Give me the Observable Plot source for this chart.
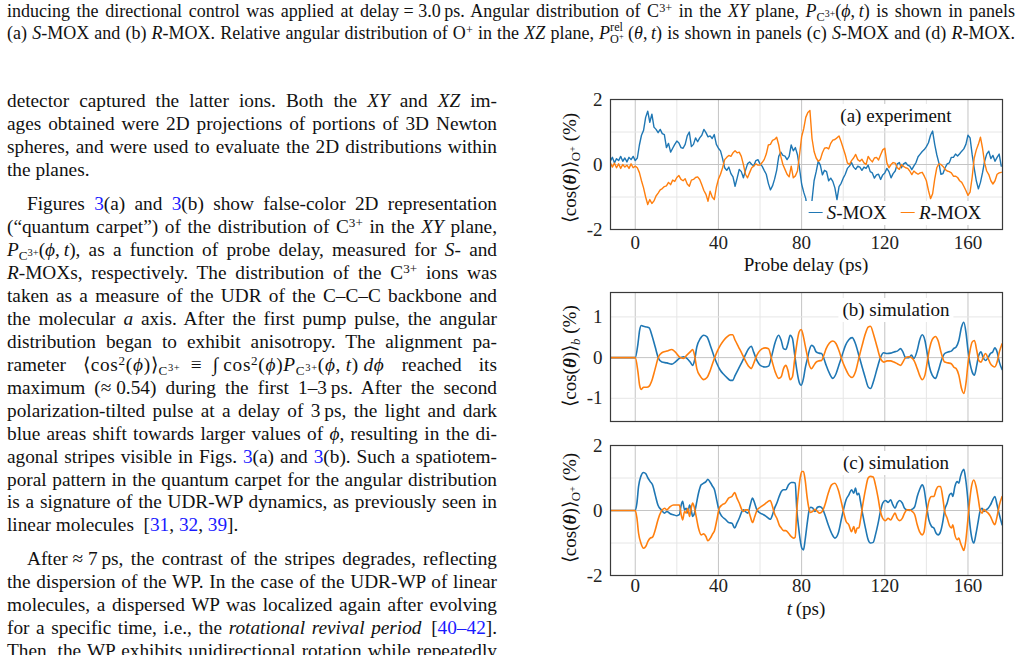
<!DOCTYPE html>
<html><head><meta charset="utf-8">
<script src="https://cdn.jsdelivr.net/npm/d3@7"></script>
<script src="https://cdn.jsdelivr.net/npm/@observablehq/plot@0.6"></script>
<style>
html,body{margin:0;padding:0;background:#fff;}
#page{position:relative;width:1029px;height:655px;overflow:hidden;font-family:"Liberation Serif","Times New Roman",serif;color:#111;}
.ln{position:absolute;white-space:nowrap;line-height:23px;}
.body{font-size:19.3px;}
.cap{font-size:18px;}
.blue{color:#1a1aff;}
.m{letter-spacing:0.7px;}
sup,sub{font-size:68%;line-height:0;}
sup{vertical-align:0.45em;}
sub{vertical-align:-0.3em;}
sub sup{vertical-align:0.4em;font-size:80%;}
.ss{display:inline-block;position:relative;width:1.0em;height:1em;}
.ss .a{position:absolute;left:0;top:-0.45em;font-size:68%;}
.ss .b{position:absolute;left:0;top:0.55em;font-size:68%;}
.abs{position:absolute;white-space:nowrap;}
.chart{position:absolute;}
.lab{font-size:19px;background:#fff;padding:1px 4px;transform:translate(-50%,-50%);line-height:22px;}
.ylab{font-size:19px;transform:translate(-50%,-50%) rotate(-90deg);line-height:22px;}
.xlab{font-size:19px;transform:translate(-50%,-50%);line-height:22px;}
.dash{display:inline-block;width:14px;height:0;border-top:1.6px solid;vertical-align:0.3em;margin-right:4px;}
</style></head>
<body><div id="page"></div>
<script>
// ---------------- data ----------------
// experiment, sampled every 1 ps from -12 ps to 176 ps
const tExp = d3.range(-12, 177);
const sExp = [
 0.1,0.22,0.05,0.18,0.12,0.25,0.1,0.2,0.08,0.22,0.15,0.25,0.12,
 0.2,0.6,0.9,1.05,1.45,1.64,1.3,1.55,1.15,1.08,
 0.98,1.08,0.95,0.92,0.52,0.65,0.38,0.5,0.62,0.72,
 0.66,0.52,0.5,0.62,0.88,1.0,0.55,0.62,0.82,0.7,
 0.82,0.9,1.08,0.98,0.85,0.88,0.8,0.92,0.62,0.5,
 0.42,0.18,-0.1,-0.18,-0.08,-0.28,-0.38,-0.67,-0.42,-0.15,
 -0.22,-0.41,-0.18,0.02,0.08,0.0,-0.04,0.12,0.15,0.02,
 -0.05,-0.18,-0.3,-0.58,-0.78,-0.66,-0.45,-0.18,0.25,0.38,
 0.28,0.26,0.15,0.25,0.6,0.42,0.52,0.3,-0.12,-0.6,
 -0.85,-1.05,-1.5,-1.78,-1.1,-0.5,-0.22,0.1,-0.02,-0.32,
 -0.18,-0.22,-0.5,-0.42,-0.52,-0.72,-1.08,-0.68,-0.58,-0.42,
 -0.3,-0.12,-0.05,0.06,-0.08,-0.15,-0.05,-0.08,-0.18,-0.08,
 -0.12,-0.02,-0.22,-0.26,-0.42,-0.32,-0.3,-0.46,-0.32,-0.26,
 -0.12,-0.22,-0.41,-0.28,-0.2,0.02,0.06,-0.1,0.02,0.06,
 -0.02,-0.05,-0.16,-0.04,0.06,0.24,0.32,0.4,0.46,0.55,
 0.67,0.9,1.03,0.62,0.3,0.05,-0.3,-0.28,-0.1,0.02,
 0.05,0.22,0.22,0.32,0.26,0.33,0.41,0.48,0.62,0.9,
 0.82,0.31,-0.12,-0.5,-0.75,-0.55,-0.25,0.1,0.32,0.41,
 0.18,0.28,0.1,0.22,0.32,-0.05];
const rExp = [
 0.05,-0.08,0.04,-0.1,0.02,-0.12,0.0,-0.08,-0.02,-0.12,0.02,-0.1,-0.05,
 -0.1,-0.25,-0.5,-0.72,-1.0,-1.23,-1.08,-1.2,-1.12,-0.97,
 -0.88,-0.78,-0.74,-0.68,-0.66,-0.55,-0.62,-0.48,-0.52,-0.4,
 -0.34,-0.46,-0.5,-0.44,-0.6,-0.67,-0.48,-0.46,-0.4,-0.38,
 -0.46,-0.62,-0.8,-0.92,-1.13,-0.82,-1.0,-1.08,-0.7,-0.45,
 -0.3,-0.1,0.15,0.22,0.28,0.25,0.36,0.42,0.36,0.38,
 0.25,0.0,-0.3,-0.41,-0.25,-0.1,-0.05,0.02,-0.02,-0.02,
 0.06,0.15,0.32,0.6,0.62,0.74,0.77,0.84,0.6,0.25,
 0.0,-0.15,-0.3,-0.38,-0.05,-0.41,-0.35,-0.2,0.3,0.85,
 1.1,1.45,1.6,1.66,0.8,0.4,0.2,0.1,0.15,0.36,
 0.5,0.52,0.48,0.65,0.75,0.77,0.82,0.88,0.7,0.5,
 0.3,0.05,0.0,0.12,0.2,0.31,0.15,0.1,0.16,0.05,
 0.0,0.25,0.15,0.08,0.2,0.22,0.14,0.3,0.45,0.5,
 0.05,-0.1,0.0,0.06,0.04,-0.1,-0.15,0.0,-0.06,-0.1,
 -0.12,-0.2,-0.31,-0.2,-0.26,-0.3,-0.26,-0.24,-0.36,-0.5,
 -0.8,-1.05,-0.9,-0.45,-0.1,0.02,0.0,-0.06,-0.15,-0.2,
 -0.22,-0.26,-0.36,-0.36,-0.4,-0.5,-0.55,-0.67,-0.8,-0.95,
 -0.85,-0.4,0.2,0.45,0.62,0.84,0.5,0.05,-0.2,-0.31,
 -0.5,-0.6,-0.5,-0.3,-0.26,-0.24];

// simulation (b)
const tSimB = [
 -12,0,1.3,2.1,2.9,4,5.6,6.7,8,9.6,
 11.2,12.8,15.2,17.6,19.2,21.2,23.2,24.8,26.4,27.6,
 28.5,29.6,31.3,32.9,34.5,36.1,37.7,39.3,40.9,42.5,
 44.1,45.7,46.8,48.1,49.7,51.3,52.9,54.5,55.8,56.9,
 58.5,60.1,62.5,64.1,65.7,67.3,68.9,70.2,71.3,72.4,
 73.4,74.5,75.6,76.6,77.7,78.8,79.8,80.9,81.7,82.9,
 83.5,84.8,85.9,87,88.3,89.6,90.7,91.8,93.4,95,
 96.6,97.9,99.5,101.1,102.7,104.3,105.9,107.5,109.1,110.7,
 112,113.1,114.7,116.3,117.9,119.5,121.1,122.8,124.4,126,
 127.6,128.7,130,131.6,132.8,134,135.6,136.7,138,139.3,
 140.4,141.5,142.8,144.4,145.6,147.2,148.8,150.4,152,153.1,
 154.3,155.6,156.9,158,159.1,160,161,162,163.1,164.2,
 165.2,166.3,167.3,168.4,169.7,170.8,171.9,172.9,174,175.1,
 176.4];
const sSimB = [
 0,0,0.34,0.67,0.79,0.77,0.75,0.73,0.55,0.26,
 -0.02,-0.11,-0.13,-0.16,-0.11,-0.02,0.02,-0.02,-0.11,-0.19,
 -0.07,0.26,0.47,0.55,0.51,0.3,0.06,-0.15,-0.31,-0.41,
 -0.49,-0.56,-0.56,-0.43,-0.27,-0.11,0.06,0.22,0.28,0.14,
 -0.07,-0.19,-0.23,-0.21,0.06,0.38,0.55,0.42,0.22,0.2,
 0.34,0.55,0.47,0.1,-0.31,-0.6,-0.68,-0.51,-0.27,0.0,
 0.14,0.3,0.26,0.14,0.11,0.1,-0.02,-0.19,-0.39,-0.51,
 -0.39,-0.19,0.06,0.3,0.44,0.49,0.34,0.06,-0.23,-0.51,
 -0.72,-0.76,-0.56,-0.27,0.0,0.12,0.1,0.11,0.14,0.16,
 0.22,0.14,0.0,0.0,0.06,-0.02,0.18,0.42,0.56,0.42,
 0.1,-0.23,-0.43,-0.51,-0.35,-0.07,0.1,0.14,0.16,0.22,
 0.26,0.42,0.75,0.87,0.59,0.18,-0.15,-0.35,-0.43,-0.19,
 0.06,0.14,0.0,-0.07,0.0,0.1,0.14,0.24,0.14,-0.11,
 -0.29];
const rSimB = [
 0,0,-0.35,-0.68,-0.78,-0.73,-0.73,-0.7,-0.56,-0.27,
 0.02,0.12,0.16,0.2,0.14,0.02,-0.02,0.06,0.14,0.2,
 0.06,-0.27,-0.46,-0.54,-0.49,-0.31,-0.07,0.14,0.3,0.42,
 0.51,0.56,0.56,0.42,0.26,0.1,-0.07,-0.21,-0.27,-0.15,
 0.06,0.18,0.24,0.22,-0.07,-0.35,-0.51,-0.47,-0.27,-0.19,
 -0.31,-0.54,-0.47,-0.07,0.34,0.63,0.69,0.51,0.3,0.0,
 -0.15,-0.27,-0.19,-0.11,-0.08,-0.07,0.06,0.22,0.36,0.41,
 0.34,0.18,-0.07,-0.27,-0.43,-0.49,-0.35,-0.02,0.3,0.59,
 0.75,0.77,0.55,0.26,-0.02,-0.11,-0.08,-0.08,-0.11,-0.15,
 -0.19,-0.11,0.0,0.02,0.0,-0.07,-0.27,-0.43,-0.54,-0.43,
 -0.11,0.22,0.44,0.52,0.42,0.1,-0.11,-0.13,-0.15,-0.23,
 -0.27,-0.43,-0.76,-0.88,-0.6,-0.15,0.18,0.38,0.42,0.18,
 -0.07,-0.11,0.0,0.1,-0.02,-0.15,-0.21,-0.23,-0.11,0.14,
 0.34];

// simulation (c)
const tSimC = [
 -12,0,0.8,1.6,2.7,4,5.1,6.1,7.2,8.3,
 9.6,10.9,12.5,14.1,15.2,16.8,18.4,20,21.2,22.1,
 22.8,23.7,24.5,25.3,26.1,26.9,27.6,28.5,29.3,30.4,
 31.7,32.9,34,34.9,36.1,37.2,38.1,39.3,40.4,41.7,
 43.3,44.9,46.5,47.8,48.9,50,51.3,52.1,52.9,54.2,
 55.3,56.4,57.4,58.5,60.1,61.7,63.3,64.9,66,67,
 68.1,69.2,70.2,71.3,72.4,73.7,75,76.1,76.9,77.7,
 78.5,79.3,80.1,80.9,81.7,82.7,83.5,84.3,85.4,86.4,
 87.6,88.6,89.9,91.2,92.8,94.4,96,97.6,99.2,100.3,
 101.4,102.7,104,105.1,105.9,106.7,107.5,108.3,109.4,110.7,
 112,113.1,114.4,115.5,116.8,117.9,119,120.3,121.6,122.8,
 123.9,124.9,126,127.1,128.4,129.5,130.7,131.9,133.2,134.4,
 135.6,136.7,138,138.8,139.9,141.2,142.5,143.6,144.7,145.7,
 146.8,147.9,148.8,150,151.1,152.1,152.7,153.7,154.8,155.6,
 156.4,157.2,158,158.8,159.8,160.7,161.7,162.8,163.9,164.9,
 166,166.8,167.6,168.7,169.7,170.8,171.9,172.9,174,175.1,
 176.4];
const sSimC = [
 0,0,0.23,0.74,1.05,1.17,1.13,1.0,0.89,0.79,
 0.48,0.17,0.02,-0.08,-0.03,-0.1,-0.13,-0.16,-0.13,0.17,
 0.28,0.02,0.07,-0.08,0.17,0.02,-0.18,-0.08,0.17,0.53,
 0.79,0.84,0.89,0.96,0.86,0.74,0.64,0.28,-0.03,-0.18,
 -0.27,-0.37,-0.39,-0.54,-0.39,-0.24,-0.03,0.02,-0.03,-0.08,
 0.17,0.38,0.23,0.02,-0.08,-0.13,-0.2,-0.27,-0.13,0.07,
 0.23,0.43,0.58,0.64,0.64,0.79,0.86,0.86,0.84,0.02,
 -0.49,-0.9,-1.16,-1.21,-0.9,-0.39,-0.03,0.1,0.07,-0.03,
 0.1,0.12,0.07,-0.13,-0.44,-0.7,-0.85,-0.7,-0.24,0.07,
 0.33,0.48,0.64,0.53,0.69,0.48,0.53,0.28,-0.13,-0.54,
 -0.9,-1.0,-0.98,-0.75,-0.39,-0.03,0.23,0.31,0.25,0.33,
 0.17,0.07,0.23,0.31,0.23,0.07,0.02,0.0,0.04,0.12,
 0.43,0.64,0.79,0.69,0.23,-0.29,-0.49,-0.54,-0.7,-0.75,
 -0.65,-0.34,0.02,0.23,0.48,0.53,0.43,0.74,0.89,0.84,
 1.05,1.2,1.27,1.0,0.43,-0.29,-0.8,-1.0,-0.7,-0.34,
 0.02,0.07,-0.03,0.02,0.07,0.17,0.33,0.43,0.17,-0.13,
 -0.44];
const rSimC = [
 0,0,-0.23,-0.7,-1.0,-1.16,-1.1,-0.95,-0.85,-0.82,
 -0.6,-0.29,-0.03,0.07,0.02,0.12,0.17,0.17,0.17,-0.13,
 -0.29,-0.03,-0.08,0.07,-0.18,0.07,0.23,0.07,-0.18,-0.54,
 -0.75,-0.72,-0.8,-0.93,-0.85,-0.72,-0.62,-0.27,0.07,0.17,
 0.23,0.38,0.43,0.55,0.38,0.23,0.02,-0.03,0.02,0.02,
 -0.18,-0.37,-0.2,0.0,0.1,0.17,0.25,0.31,0.12,-0.1,
 -0.24,-0.44,-0.54,-0.62,-0.62,-0.7,-0.8,-0.85,-0.82,0.02,
 0.58,1.0,1.2,1.2,0.94,0.38,0.07,-0.06,-0.03,0.04,
 -0.03,-0.08,-0.03,0.17,0.53,0.79,0.84,0.64,0.23,-0.08,
 -0.34,-0.44,-0.65,-0.49,-0.7,-0.54,-0.54,-0.29,0.17,0.64,
 1.0,1.05,1.03,0.79,0.38,-0.03,-0.24,-0.31,-0.24,-0.29,
 -0.18,-0.08,-0.24,-0.31,-0.24,-0.08,0.02,0.02,-0.03,-0.13,
 -0.44,-0.65,-0.75,-0.68,-0.18,0.28,0.43,0.43,0.64,0.74,
 0.74,0.38,-0.03,-0.24,-0.47,-0.54,-0.44,-0.75,-0.9,-0.85,
 -1.0,-1.13,-1.23,-1.0,-0.39,0.23,0.74,0.94,0.74,0.38,
 -0.03,-0.08,0.04,-0.03,-0.08,-0.18,-0.34,-0.44,-0.18,0.17,
 0.43];

const xTicks = [0, 40, 80, 120, 160];
const xMinor = [20, 60, 100, 140];
const yTicksA = [-2, 0, 2];
const yTicksB = [-1, 0, 1];
const yTicksC = [-2, 0, 2];
const seriesNames = ["S-MOX", "R-MOX"];
const colors = ["#1f77b4", "#ff7f0e"];

// ---------------- text ----------------
const S = "\u2009"; // thin space
const M = "\u2005"; // math relation space
const E = "\u2002"; // en space
const P3 = `<i>P</i><sub>C<sup>3+</sup></sub>(<i>ϕ</i>,${S}<i>t</i>)`;
const textLines = [
 {cls:"cap", x:7, base:18, w:1008, html:`inducing the directional control was applied at delay${M}=${M}3.0${S}ps. Angular distribution of C<sup>3+</sup> in the <i>XY</i> plane, ${P3} is shown in panels`},
 {cls:"cap", x:7, base:39, w:1008, html:`(a) <i>S</i>-MOX and (b) <i>R</i>-MOX. Relative angular distribution of O<sup>+</sup> in the <i>XZ</i> plane, <i>P</i><span class="ss"><span class="a">rel</span><span class="b">O<sup>+</sup></span></span>(<i>θ</i>,${S}<i>t</i>) is shown in panels (c) <i>S</i>-MOX and (d) <i>R</i>-MOX.`},
 {cls:"body", x:7, base:106.7, w:490, html:`detector captured the latter ions. Both the <i>XY</i> and <i>XZ</i> im-`},
 {cls:"body", x:7, base:129.7, w:490, html:`ages obtained were 2D projections of portions of 3D Newton`},
 {cls:"body", x:7, base:152.7, w:490, html:`spheres, and were used to evaluate the 2D distributions within`},
 {cls:"body", x:7, base:175.7, w:0, html:`the planes.`},
 {cls:"body", x:27, base:210, w:470, html:`Figures <span class="blue">3</span>(a) and <span class="blue">3</span>(b) show false-color 2D representation`},
 {cls:"body", x:7, base:233, w:490, html:`(“quantum carpet”) of the distribution of C<sup>3+</sup> in the <i>XY</i> plane,`},
 {cls:"body", x:7, base:256, w:490, html:`${P3}, as a function of probe delay, measured for <i>S</i>- and`},
 {cls:"body", x:7, base:279, w:490, html:`<i>R</i>-MOXs, respectively. The distribution of the C<sup>3+</sup> ions was`},
 {cls:"body", x:7, base:302, w:490, html:`taken as a measure of the UDR of the C–C–C backbone and`},
 {cls:"body", x:7, base:325, w:490, html:`the molecular <i>a</i> axis. After the first pump pulse, the angular`},
 {cls:"body", x:7, base:348, w:490, html:`distribution began to exhibit anisotropy. The alignment pa-`},
 {cls:"body", x:7, base:371, w:490, html:`rameter <span class="m">⟨cos<sup>2</sup>(<i>ϕ</i>)⟩<sub>C<sup>3+</sup></sub>${E}≡${E}∫${S}cos<sup>2</sup>(<i>ϕ</i>)${P3}${S}<i>dϕ</i></span> reached its`},
 {cls:"body", x:7, base:394, w:490, html:`maximum (≈${M}0.54) during the first 1–3${S}ps. After the second`},
 {cls:"body", x:7, base:417, w:490, html:`polarization-tilted pulse at a delay of 3${S}ps, the light and dark`},
 {cls:"body", x:7, base:440, w:490, html:`blue areas shift towards larger values of <i>ϕ</i>, resulting in the di-`},
 {cls:"body", x:7, base:463, w:490, html:`agonal stripes visible in Figs. <span class="blue">3</span>(a) and <span class="blue">3</span>(b). Such a spatiotem-`},
 {cls:"body", x:7, base:486, w:490, html:`poral pattern in the quantum carpet for the angular distribution`},
 {cls:"body", x:7, base:508, w:490, html:`is a signature of the UDR-WP dynamics, as previously seen in`},
 {cls:"body", x:7, base:531, w:0, html:`linear molecules${E}[<span class="blue">31</span>, <span class="blue">32</span>, <span class="blue">39</span>].`},
 {cls:"body", x:27, base:565, w:470, html:`After${M}≈${M}7${S}ps, the contrast of the stripes degrades, reflecting`},
 {cls:"body", x:7, base:588, w:490, html:`the dispersion of the WP. In the case of the UDR-WP of linear`},
 {cls:"body", x:7, base:611, w:490, html:`molecules, a dispersed WP was localized again after evolving`},
 {cls:"body", x:7, base:634, w:490, html:`for a specific time, i.e., the <i>rotational revival period</i>${E}[<span class="blue">40–42</span>].`},
 {cls:"body", x:7, base:657, w:490, html:`Then, the WP exhibits unidirectional rotation while repeatedly`}
];

const page = document.getElementById("page");
for (const L of textLines) {
  const d = document.createElement("div");
  d.className = "ln " + L.cls;
  d.innerHTML = L.html;
  const fs = L.cls === "cap" ? 18 : 19.3;
  const half = (23 - 1.107 * fs) / 2;
  d.style.left = L.x + "px";
  d.style.top = (L.base - half - 0.891 * fs) + "px";
  page.appendChild(d);
  if (L.w) {
    const w = d.getBoundingClientRect().width;
    const n = (d.textContent.match(/ /g) || []).length;
    if (n) d.style.wordSpacing = ((L.w - w) / n) + "px";
  }
}

// ---------------- charts ----------------
const fmt = d => d < 0 ? "-" + (-d) : String(d);
function panel({top, height, mb, s, r, yDomain, yTicks, yMinor, showX, pad, curve, sw}) {
  const plot = Plot.plot({
    width: 447, height, marginLeft: 45, marginRight: 10, marginTop: 8, marginBottom: mb,
    x: {domain: [-11.9, 176.6], axis: null},
    y: {domain: yDomain, axis: null},
    style: {fontFamily: "Liberation Serif, serif", fontSize: "19px", color: "#222", background: "transparent", overflow: "visible"},
    marks: [
      Plot.gridX({ticks: xMinor, stroke: "#e6e6e6", strokeOpacity: 1}),
      Plot.gridX({ticks: xTicks, stroke: "#c4c4c4", strokeOpacity: 1}),
      Plot.gridY({ticks: yMinor, stroke: "#e6e6e6", strokeOpacity: 1}),
      Plot.gridY({ticks: [0], stroke: "#c4c4c4", strokeOpacity: 1}),
      Plot.line(s, {x: "t", y: "v", stroke: colors[0], strokeWidth: sw, curve, clip: true}),
      Plot.line(r, {x: "t", y: "v", stroke: colors[1], strokeWidth: sw, curve, clip: true}),
      Plot.frame({stroke: "#3a3a3a", strokeWidth: 1.2}),
      showX ? Plot.axisX({ticks: xTicks, tickSize: 0, tickPadding: pad, tickFormat: fmt, label: null}) : null,
      Plot.axisY({ticks: yTicks, tickSize: 0, tickPadding: 8, tickFormat: fmt, label: null})
    ]
  });
  plot.classList.add("chart");
  plot.style.left = "565px";
  plot.style.top = top + "px";
  page.appendChild(plot);
}
const zip = (ts, vs) => ts.map((t, i) => ({t, v: vs[i]}));

panel({top: 91, height: 178, mb: 40, s: zip(tExp, sExp), r: zip(tExp, rExp), yDomain: [-2, 2], yTicks: yTicksA, yMinor: [-1, 1], showX: true, pad: 6, curve: "linear", sw: 1.4});
panel({top: 284, height: 149, mb: 12, s: zip(tSimB, sSimB), r: zip(tSimB, rSimB), yDomain: [-1.57, 1.6], yTicks: yTicksB, yMinor: [-1, 1], showX: false, pad: 6, curve: "monotone-x", sw: 1.6});
panel({top: 437, height: 178, mb: 40, s: zip(tSimC, sSimC), r: zip(tSimC, rSimC), yDomain: [-2, 2], yTicks: yTicksC, yMinor: [-1, 1], showX: true, pad: 3, curve: "monotone-x", sw: 1.6});

// overlays: panel titles, legend, axis labels
function addAbs(cls, x, y, html) {
  const d = document.createElement("div");
  d.className = "abs " + cls;
  d.style.left = x + "px"; d.style.top = y + "px";
  d.innerHTML = html;
  page.appendChild(d);
  return d;
}
addAbs("lab", 896, 116, "(a) experiment");
addAbs("lab", 896, 310, "(b) simulation");
addAbs("lab", 896, 463, "(c) simulation");
addAbs("lab", 895, 213,
  `<span class="dash" style="border-color:${colors[0]}"></span><i>${seriesNames[0][0]}</i>${seriesNames[0].slice(1)}&nbsp;&nbsp;&nbsp;<span class="dash" style="border-color:${colors[1]}"></span><i>${seriesNames[1][0]}</i>${seriesNames[1].slice(1)}`);
addAbs("xlab", 806, 265, "Probe delay (ps)");
addAbs("xlab", 806, 609, `<i>t</i>${S}(ps)`);
addAbs("ylab", 570, 168, `⟨cos(<b><i>θ</i></b>)⟩<sub>O<sup>+</sup></sub> (%)`);
addAbs("ylab", 570, 356, `⟨cos(<b><i>θ</i></b>)⟩<sub><i>b</i></sub> (%)`);
addAbs("ylab", 570, 508, `⟨cos(<b><i>θ</i></b>)⟩<sub>O<sup>+</sup></sub> (%)`);
</script>
</body></html>
